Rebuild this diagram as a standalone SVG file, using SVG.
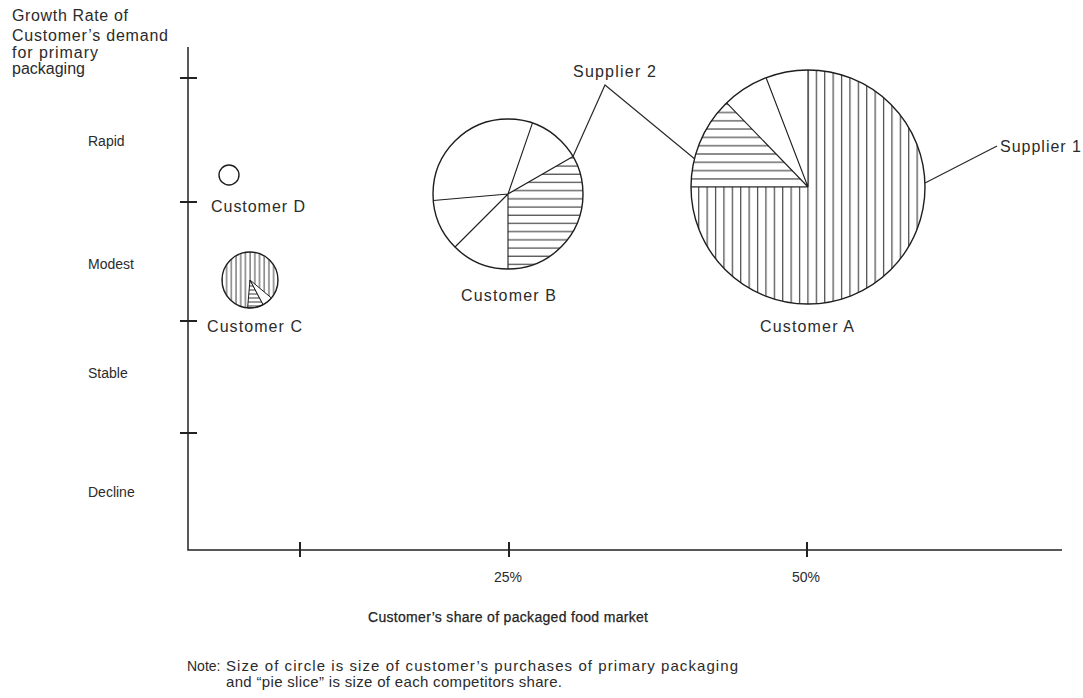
<svg xmlns="http://www.w3.org/2000/svg" width="1083" height="698" viewBox="0 0 1083 698">
  <style>
    text { font-family: "Liberation Sans", Arial, Helvetica, sans-serif; font-size: 16px; fill: #2b2b2b; }
    .small { font-size: 14px; }
    .note { font-size: 15px; }
    .axis { stroke: #222; stroke-width: 1.5; fill: none; }
    .tick { stroke: #222; stroke-width: 2; }
    .rim { stroke: #1e1e1e; stroke-width: 1.4; fill: none; }
    .ray { stroke: #1e1e1e; stroke-width: 1.1; fill: none; }
    .leader { stroke: #2a2a2a; stroke-width: 1.2; fill: none; }
  </style>
  <defs>
    <!-- hatching for supplier 1 (vertical) and supplier 2 (horizontal) -->
    <pattern id="vHatch" patternUnits="userSpaceOnUse" x="0" y="0" width="8.4" height="10">
      <rect width="8.4" height="10" fill="#fff"/>
      <line x1="1.6" y1="0" x2="1.6" y2="10" stroke="#222" stroke-width="1"/>
    </pattern>
    <pattern id="hHatchA" patternUnits="userSpaceOnUse" x="0" y="0" width="10" height="8.3">
      <rect width="10" height="8.3" fill="#fff"/>
      <line x1="0" y1="4.6" x2="10" y2="4.6" stroke="#222" stroke-width="1"/>
    </pattern>
    <pattern id="hHatchB" patternUnits="userSpaceOnUse" x="0" y="0" width="10" height="8.2">
      <rect width="10" height="8.2" fill="#fff"/>
      <line x1="0" y1="2" x2="10" y2="2" stroke="#222" stroke-width="1"/>
    </pattern>
    <pattern id="vHatchFine" patternUnits="userSpaceOnUse" x="0" y="0" width="4.7" height="10">
      <rect width="4.7" height="10" fill="#fff"/>
      <line x1="1" y1="0" x2="1" y2="10" stroke="#222" stroke-width="0.9"/>
    </pattern>
    <pattern id="hHatchFine" patternUnits="userSpaceOnUse" x="0" y="0" width="10" height="4">
      <rect width="10" height="4" fill="#fff"/>
      <line x1="0" y1="2" x2="10" y2="2" stroke="#222" stroke-width="0.9"/>
    </pattern>
  </defs>

  <rect width="1083" height="698" fill="#fff"/>

  <!-- axes -->
  <g id="axes">
    <path class="axis" d="M188,47 L188,550 L1062,550"/>
    <line class="tick" x1="180" y1="78" x2="197" y2="78"/>
    <line class="tick" x1="180" y1="202" x2="197" y2="202"/>
    <line class="tick" x1="180" y1="321" x2="197" y2="321"/>
    <line class="tick" x1="180" y1="433" x2="197" y2="433"/>
    <line class="tick" x1="300" y1="542" x2="300" y2="557"/>
    <line class="tick" x1="509" y1="542" x2="509" y2="557"/>
    <line class="tick" x1="807" y1="542" x2="807" y2="557"/>
  </g>

  <g id="y-title">
    <text x="12" y="21" textLength="116" lengthAdjust="spacing">Growth Rate of</text>
    <text x="12" y="41" textLength="156" lengthAdjust="spacing">Customer’s demand</text>
    <text x="12" y="58" textLength="86" lengthAdjust="spacing">for primary</text>
    <text x="12" y="74">packaging</text>
  </g>

  <g id="y-labels">
    <text class="small" x="88" y="146">Rapid</text>
    <text class="small" x="88" y="269">Modest</text>
    <text class="small" x="88" y="378">Stable</text>
    <text class="small" x="88" y="497">Decline</text>
  </g>

  <g id="x-labels">
    <text class="small" x="494" y="582">25%</text>
    <text class="small" x="792" y="582">50%</text>
    <text class="small" x="368" y="622" textLength="280" lengthAdjust="spacing" fill="#111" stroke="#111" stroke-width="0.25">Customer’s share of packaged food market</text>
  </g>

  <!-- Customer D -->
  <g id="customer-d">
    <circle class="rim" cx="229" cy="175" r="10"/>
    <text x="211" y="212" textLength="94" lengthAdjust="spacing">Customer D</text>
  </g>

  <!-- Customer C -->
  <g id="customer-c">
    <circle cx="250" cy="280" r="28" fill="url(#vHatchFine)"/>
    <path d="M250,280 L263.1,304.7 A28,28 0 0,1 247.6,307.9 Z" fill="url(#hHatchFine)" stroke="#1e1e1e" stroke-width="1"/>
    <path d="M250,280 L271.4,298 A28,28 0 0,1 263.1,304.7 Z" fill="#fff" stroke="#1e1e1e" stroke-width="1"/>
    <circle class="rim" cx="250" cy="280" r="28"/>
    <text x="207" y="332" textLength="95" lengthAdjust="spacing">Customer C</text>
  </g>

  <!-- Customer B -->
  <g id="customer-b">
    <circle cx="508" cy="194" r="75" fill="#fff"/>
    <path d="M508,194 L573,156.5 A75,75 0 0,1 508,269 Z" fill="url(#hHatchB)"/>
    <path class="ray" d="M508,194 L573,156.5 M508,194 L508,269 M508,194 L532.4,123.1 M508,194 L433.3,200.5 M508,194 L455,247"/>
    <circle class="rim" cx="508" cy="194" r="75"/>
    <text x="461" y="301" textLength="95" lengthAdjust="spacing">Customer B</text>
  </g>

  <!-- Customer A -->
  <g id="customer-a">
    <path d="M808,187 L808,70 A117,117 0 1,1 691,187 Z" fill="url(#vHatch)"/>
    <path d="M808,187 L691,187 A117,117 0 0,1 726.7,102.8 Z" fill="url(#hHatchA)"/>
    <path class="ray" d="M808,187 L808,70 M808,187 L691,187 M808,187 L726.7,102.8 M808,187 L766.1,77.8"/>
    <circle class="rim" cx="808" cy="187" r="117"/>
    <text x="760" y="332" textLength="94" lengthAdjust="spacing">Customer A</text>
  </g>

  <!-- supplier call-outs -->
  <g id="connectors">
    <path class="leader" d="M573,156.5 L605,85 L694.5,158.7"/>
    <path class="leader" d="M925,183 L997,146"/>
  </g>
  <g id="supplier-2">
    <text x="573" y="77" textLength="83" lengthAdjust="spacing">Supplier 2</text>
  </g>
  <g id="supplier-1">
    <text x="1000" y="152" textLength="81" lengthAdjust="spacing">Supplier 1</text>
  </g>

  <g id="note">
    <text class="small" x="187" y="671">Note:</text>
    <text class="note" x="226" y="671" textLength="512" lengthAdjust="spacing">Size of circle is size of customer’s purchases of primary packaging</text>
    <text class="note" x="226" y="687" textLength="336" lengthAdjust="spacing">and “pie slice” is size of each competitors share.</text>
  </g>
</svg>
